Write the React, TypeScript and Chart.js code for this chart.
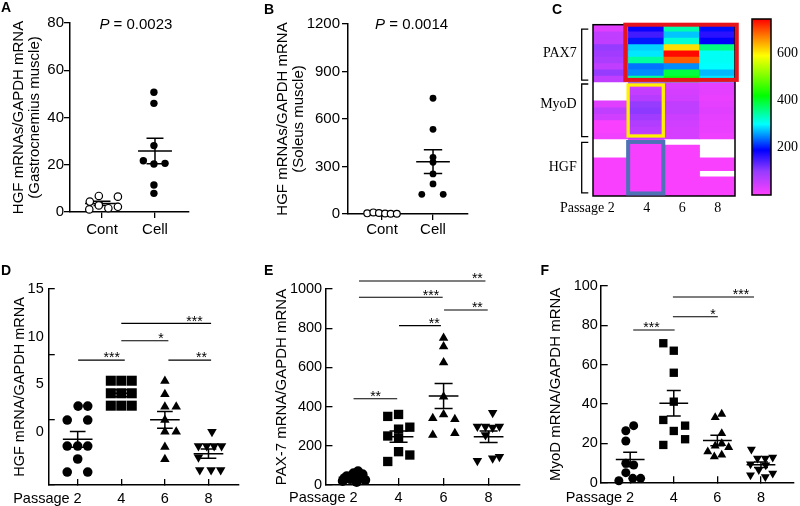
import React, { useEffect, useRef } from 'react';
import { Chart, registerables } from 'chart.js';

Chart.register(...registerables);

const SANS = '"Liberation Sans", Arial, Helvetica, sans-serif';
const SERIF = '"Liberation Serif", "Times New Roman", serif';
Chart.defaults.color = '#000';
Chart.defaults.font.family = SANS;

// ---------------- DATA ----------------
// Panel A (gastrocnemius)
const aCategories = ['Cont', 'Cell'];
const aContValues = [4.4, 6.8, 6.5, 1.1, 2.8, 1.6, 2.2];
const aContJitter = [-0.23, -0.06, 0.3, -0.24, -0.06, 0.12, 0.3];
const aCellValues = [50.7, 46.0, 28.1, 21.7, 20.3, 20.6, 11.4, 7.9];
const aCellJitter = [-0.02, -0.02, -0.02, -0.22, -0.02, 0.19, -0.02, -0.02];
const aPValue = '0.0023';

// Panel B (soleus)
const bCategories = ['Cont', 'Cell'];
const bContValues = [4, 10, 6, 3, 2, 2];
const bContJitter = [-0.29, -0.17, -0.06, 0.06, 0.17, 0.29];
const bCellValues = [731, 535, 358, 327, 253, 190, 124, 124];
const bCellJitter = [0, 0, 0, 0, 0, 0, -0.22, 0.2];
const bPValue = '0.0014';

// Passage categories (C, D, E, F)
const passages = ['Passage 2', '4', '6', '8'];

// Panel C heatmap (rows top->bottom, columns = passages), null = missing
const pax7Heat: (number | null)[][] = [
  [30, 185, 340, 195],
  [60, 150, 275, 165],
  [60, 200, 320, 190],
  [100, 280, 610, 360],
  [90, 290, 740, 305],
  [80, 345, 690, 305],
  [60, 240, 250, 300],
  [100, 250, 390, 270],
  [60, 350, 410, 290],
];
const myodHeat: (number | null)[][] = [
  [null, 45, 35, 25],
  [null, 55, 40, 25],
  [null, 70, 45, 20],
  [30, 100, 60, 25],
  [60, 105, 60, 30],
  [45, 90, 50, 25],
  [5, 75, 45, 20],
  [5, 65, 40, 20],
  [12, 55, 40, 15],
];
const hgfHeat: (number | null)[][] = [
  [null, 8, null, null],
  [null, 8, 5, null],
  [null, 8, 5, null],
  [5, 8, 5, 5],
  [5, 8, 5, 5],
  [5, 8, 5, null],
  [5, 8, 5, 5],
  [5, 8, 5, 5],
  [5, 8, 5, 5],
];
const heatGenes = ['PAX7', 'MyoD', 'HGF'];
const colorbarTicks = [200, 400, 600];
const colorbarMax = 745;

// Panel D (HGF)
const dP2 = [6.04, 6.04, 4.97, 4.97, 2.98, 2.98, 2.98, 1.99, 0.99, 0.99];
const dP2J = [0.01, 0.23, -0.24, 0.23, -0.24, 0, 0.23, 0, -0.24, 0.23];
const dP4 = [7.98, 7.98, 7.98, 7.02, 7.02, 7.02, 6.07, 6.07, 6.07];
const dP4J = [-0.24, 0, 0.24, -0.24, 0, 0.24, -0.24, 0, 0.24];
const dP6 = [7.96, 6.94, 5.99, 5.99, 4.97, 4.08, 4.08, 2.91, 1.97];
const dP6J = [0, 0, 0, 0.26, 0, 0, 0.26, 0, 0];
const dP8 = [4.08, 2.98, 2.98, 2.98, 2.98, 2.12, 1.15, 1.15, 1.15];
const dP8J = [0.08, -0.23, -0.04, 0.13, 0.3, -0.23, -0.2, 0.06, 0.28];
const dTickLabels = [0, 5, 10, 15];
const dSig = [
  { from: 2.0, to: 4.06, y: 12.37, label: '***', at: 3.68 },
  { from: 2.0, to: 3.08, y: 11.04, label: '*', at: 2.91 },
  { from: 1.01, to: 2.08, y: 9.56, label: '***', at: 1.78 },
  { from: 3.08, to: 4.06, y: 9.56, label: '**', at: 3.84 },
];

// Panel E (PAX-7)
const eP2 = [20, 45, 30, 60, 15, 40, 55, 25, 35, 70];
const eP2J = [-0.24, -0.15, -0.07, 0, 0.07, 0.13, 0.2, 0.26, -0.2, 0.1];
const eP4 = [350, 360, 295, 285, 250, 238, 170, 153, 120];
const eP4J = [-0.24, 0, 0.25, 0, -0.24, 0, 0, 0.25, -0.24];
const eP6 = [750, 706, 625, 450, 340, 360, 335, 255, 264];
const eP6J = [0, 0, 0, 0, -0.24, 0, 0.25, -0.24, 0.25];
const eP8 = [369, 298, 298, 294, 298, 255, 124, 136, 144];
const eP8J = [0.09, -0.25, -0.07, 0.09, 0.24, -0.07, -0.25, 0.09, 0.24];
const eSig = [
  { from: 1.12, to: 3.93, y: 1041, label: '**', at: 3.75 },
  { from: 1.12, to: 2.98, y: 958, label: '***', at: 2.72 },
  { from: 3.01, to: 3.98, y: 893, label: '**', at: 3.75 },
  { from: 2.01, to: 2.94, y: 813, label: '**', at: 2.79 },
  { from: 1.0, to: 1.97, y: 440, label: '**', at: 1.49 },
];

// Panel F (MyoD)
const fP2 = [1.0, 5.1, 9.9, 9.0, 21.2, 26.4, 29.0, 2.2, 2.2];
const fP2J = [-0.26, -0.1, -0.1, 0.08, -0.1, -0.1, 0.08, 0.06, 0.24];
const fP4 = [70.9, 67.1, 55.9, 41.2, 31.9, 29.0, 26.3, 22.1, 19.2];
const fP4J = [-0.24, 0, 0, 0, -0.24, 0.26, 0, 0.26, -0.24];
const fP6 = [33.2, 34.9, 25.1, 15.8, 18.7, 20.0, 18.0, 13.2, 14.1];
const fP6J = [-0.05, 0.1, 0.1, -0.22, -0.05, 0.1, 0.26, -0.07, 0.1];
const fP8 = [17.0, 12.4, 12.4, 12.9, 9.5, 9.0, 6.5, 3.9, 4.8, 3.0];
const fP8J = [-0.22, -0.08, 0.1, 0.27, -0.24, 0.11, -0.05, -0.24, 0.27, 0.1];
const fSig = [
  { from: 1.98, to: 3.84, y: 94.4, label: '***', at: 3.54 },
  { from: 1.98, to: 3.01, y: 84.4, label: '*', at: 2.9 },
  { from: 1.07, to: 2.02, y: 77.6, label: '***', at: 1.49 },
];

// ---------------- HELPERS ----------------
type Shape = 'circle' | 'open' | 'rect' | 'triangle' | 'down';
interface GroupSpec { at: number; values: number[]; jitter: number[]; shape: Shape; r: number }
interface SigSpec { from: number; to: number; y: number; label: string; at: number }
interface TextPart { t: string; italic?: boolean }
interface TextSpec { x: number; y: number; parts: TextPart[]; size: number; dy?: number; baseline?: CanvasTextBaseline }

interface PanelSpec {
  w: number; h: number;
  area: [number, number, number, number];
  title: string[]; titleCenter: number; titleSize: number; titleLH: number;
  xMin: number; xMax: number; xTicks: number[]; xLabels: string[]; xAlignEnd: boolean; xPad: number;
  yMin: number; yMax: number; yStep: number; yPad: number;
  tickLen: number; tickSize: number;
  labelAxis?: { min: number; max: number; ticks: number[] };
  groups: GroupSpec[]; halfMean: number; halfCap: number;
  sigs: SigSpec[]; texts: TextSpec[];
}

function meanSem(vals: number[]) {
  const n = vals.length;
  const m = vals.reduce((a, b) => a + b, 0) / n;
  const sd = Math.sqrt(vals.reduce((a, b) => a + (b - m) * (b - m), 0) / (n - 1));
  return { m, s: sd / Math.sqrt(n) };
}

function fontStr(size: number, italic?: boolean, family = SANS) {
  return `${italic ? 'italic ' : ''}${size}px ${family}`;
}

function makeTextPlugin(items: TextSpec[]) {
  return {
    id: 'annotText',
    afterDatasetsDraw(chart: any) {
      const ctx = chart.ctx;
      const xs = chart.scales.x;
      const ys = chart.scales.y;
      ctx.save();
      ctx.fillStyle = '#000';
      ctx.textAlign = 'left';
      for (const it of items) {
        const px = xs.getPixelForValue(it.x);
        const py = ys.getPixelForValue(it.y) + (it.dy || 0);
        const widths = it.parts.map((p) => {
          ctx.font = fontStr(it.size, p.italic);
          return ctx.measureText(p.t).width;
        });
        const total = widths.reduce((a, b) => a + b, 0);
        let x = px - total / 2;
        ctx.textBaseline = it.baseline || 'middle';
        it.parts.forEach((p, i) => {
          ctx.font = fontStr(it.size, p.italic);
          ctx.fillText(p.t, x, py);
          x += widths[i];
        });
      }
      ctx.restore();
    },
  };
}

function buildScatter(p: PanelSpec) {
  const [l, t, r, b] = p.area;
  const padLeft = p.titleCenter - (p.titleSize * p.titleLH) / 2;
  const err: any[] = [];
  for (const g of p.groups) {
    const { m, s } = meanSem(g.values);
    const c = g.at;
    err.push(
      { x: c - p.halfMean, y: m }, { x: c + p.halfMean, y: m }, { x: c, y: null },
      { x: c, y: m - s }, { x: c, y: m + s }, { x: c, y: null },
      { x: c - p.halfCap, y: m + s }, { x: c + p.halfCap, y: m + s }, { x: c, y: null },
      { x: c - p.halfCap, y: m - s }, { x: c + p.halfCap, y: m - s }, { x: c, y: null },
    );
  }
  const sigLines: any[] = [];
  for (const sg of p.sigs) {
    sigLines.push({ x: sg.from, y: sg.y }, { x: sg.to, y: sg.y }, { x: sg.to, y: null });
  }
  const datasets: any[] = [
    {
      data: err, showLine: true, pointRadius: 0, borderColor: '#000', borderWidth: 1.5,
      order: 2, clip: false, spanGaps: false,
    },
  ];
  if (sigLines.length) {
    datasets.push({
      data: sigLines, showLine: true, pointRadius: 0, borderColor: '#000', borderWidth: 1.1,
      order: 2, clip: false, spanGaps: false,
    });
  }
  for (const g of p.groups) {
    const open = g.shape === 'open';
    datasets.push({
      data: g.values.map((v, i) => ({ x: g.at + g.jitter[i], y: v })),
      showLine: false,
      pointStyle: g.shape === 'rect' ? 'rect' : g.shape === 'triangle' || g.shape === 'down' ? 'triangle' : 'circle',
      pointRotation: g.shape === 'down' ? 180 : 0,
      pointRadius: g.r,
      pointHoverRadius: g.r,
      pointBackgroundColor: open ? '#fff' : '#000',
      backgroundColor: open ? '#fff' : '#000',
      pointBorderColor: '#000',
      borderColor: '#000',
      pointBorderWidth: open ? 1.2 : 0,
      order: 1,
      clip: false,
    });
  }
  const texts: TextSpec[] = [
    ...p.texts,
    ...p.sigs.map((sg) => ({ x: sg.at, y: sg.y, parts: [{ t: sg.label }], size: 14, dy: 2.4, baseline: 'alphabetic' as CanvasTextBaseline })),
  ];
  const gridOn = (len: number) => ({
    display: true, drawOnChartArea: false, drawTicks: true, tickLength: len, color: '#000', lineWidth: 1.3,
  });
  const titleOpts = {
    display: true, text: p.title, color: '#000', padding: 0,
    font: { family: SANS, size: p.titleSize, lineHeight: p.titleLH },
  };
  const scales: any = {
    x: {
      type: 'linear', min: p.xMin, max: p.xMax,
      afterBuildTicks: (s: any) => { s.ticks = p.xTicks.map((v) => ({ value: v })); },
      afterFit: (s: any) => { s.height = p.h - b; },
      ticks: {
        autoSkip: false, maxRotation: 0, color: '#000', padding: p.xPad,
        align: p.xAlignEnd ? 'end' : 'center', labelOffset: p.xAlignEnd ? 4 : 0,
        font: { family: SANS, size: p.tickSize },
        callback: (_v: any, i: number) => p.xLabels[i],
      },
      grid: gridOn(p.tickLen),
      border: { display: true, color: '#000', width: 1.5 },
    },
    y: {
      type: 'linear', position: 'left', weight: 0, min: p.yMin, max: p.yMax,
      afterFit: (s: any) => { s.width = p.labelAxis ? 0 : l - padLeft; },
      ticks: {
        display: !p.labelAxis, stepSize: p.yStep, color: '#000', padding: p.yPad,
        font: { family: SANS, size: p.tickSize },
        callback: (v: any) => String(v),
      },
      grid: gridOn(p.tickLen),
      border: { display: true, color: '#000', width: 1.5 },
      title: p.labelAxis ? { display: false } : titleOpts,
    },
  };
  if (p.labelAxis) {
    const la = p.labelAxis;
    scales.yl = {
      type: 'linear', position: 'left', weight: 1, min: la.min, max: la.max,
      afterBuildTicks: (s: any) => { s.ticks = la.ticks.map((v) => ({ value: v })); },
      afterFit: (s: any) => { s.width = l - padLeft; },
      ticks: { color: '#000', padding: p.yPad, font: { family: SANS, size: p.tickSize }, callback: (v: any) => String(v) },
      grid: { display: false, drawTicks: false, tickLength: 0 },
      border: { display: false },
      title: titleOpts,
    };
  }
  return {
    type: 'scatter',
    data: { datasets },
    options: {
      responsive: false, animation: false, events: [],
      layout: { padding: { left: padLeft, top: t, right: p.w - r, bottom: 0 } },
      scales,
      plugins: { legend: { display: false }, tooltip: { enabled: false } },
    },
    plugins: [makeTextPlugin(texts)],
  };
}

// colour map for heatmap / colour bar
const heatStops: [number, number[]][] = [
  [0, [255, 64, 255]], [100, [150, 60, 255]], [190, [0, 0, 255]], [300, [0, 255, 255]],
  [420, [0, 255, 0]], [590, [255, 255, 0]], [670, [255, 128, 0]], [745, [255, 0, 0]],
];
function heatColor(v: number) {
  for (let i = 1; i < heatStops.length; i++) {
    const [v1, c1] = heatStops[i];
    const [v0, c0] = heatStops[i - 1];
    if (v <= v1 || i === heatStops.length - 1) {
      const f = Math.max(0, Math.min(1, (v - v0) / (v1 - v0)));
      const c = c0.map((x, k) => Math.round(x + (c1[k] - x) * f));
      return `rgb(${c[0]},${c[1]},${c[2]})`;
    }
  }
  return 'rgb(255,0,0)';
}

const heatBracketRows: [number, number][] = [[0.7, 8.75], [9.35, 17.65], [18.55, 26.5]];
const heatFrames = [
  { x0: 0.41, x1: 3.55, r0: 0, r1: 8.7, color: '#e8141c', w: 4 },
  { x0: 0.49, x1: 1.48, r0: 9.5, r1: 17.54, color: '#fff200', w: 3.3 },
  { x0: 0.49, x1: 1.48, r0: 18.48, r1: 26.6, color: '#4f72b7', w: 4 },
];

function buildHeat() {
  const rows = [...pax7Heat, ...myodHeat, ...hgfHeat];
  const datasets = rows.map((row, r) => ({
    data: row.map((v) => (v === null ? null : [r, r + 1])),
    backgroundColor: row.map((v) => (v === null ? 'rgba(0,0,0,0)' : heatColor(v))),
    borderWidth: 0, barPercentage: 1, categoryPercentage: 1, grouped: false, inflateAmount: 0.4,
  }));
  const decor = {
    id: 'heatDecor',
    afterDatasetsDraw(chart: any) {
      const { ctx, chartArea: a } = chart;
      const xs = chart.scales.x;
      const ys = chart.scales.y;
      ctx.save();
      ctx.strokeStyle = '#000';
      ctx.lineWidth = 1.5;
      ctx.strokeRect(a.left, a.top, a.right - a.left, a.bottom - a.top);
      ctx.lineWidth = 1.3;
      for (const [r0, r1] of heatBracketRows) {
        const y0 = ys.getPixelForValue(r0);
        const y1 = ys.getPixelForValue(r1);
        const bx = a.left - 11.3;
        ctx.beginPath();
        ctx.moveTo(bx + 6.6, y0);
        ctx.lineTo(bx, y0);
        ctx.lineTo(bx, y1);
        ctx.lineTo(bx + 6.6, y1);
        ctx.stroke();
      }
      for (const f of heatFrames) {
        const x0 = xs.getPixelForValue(f.x0);
        const x1 = xs.getPixelForValue(f.x1);
        const y0 = ys.getPixelForValue(f.r0);
        const y1 = ys.getPixelForValue(f.r1);
        ctx.strokeStyle = f.color;
        ctx.lineWidth = f.w;
        ctx.strokeRect(x0, y0, x1 - x0, y1 - y0);
      }
      ctx.restore();
    },
  };
  return {
    type: 'bar',
    data: { labels: passages, datasets },
    options: {
      responsive: false, animation: false, events: [],
      layout: { padding: { left: 0, top: 17, right: 5, bottom: 0 } },
      scales: {
        x: {
          type: 'category',
          afterFit: (s: any) => { s.height = 54; },
          grid: { display: false, drawTicks: false, tickLength: 0 },
          border: { display: false },
          ticks: { align: 'end', labelOffset: 4, padding: 3.9, color: '#000', autoSkip: false, maxRotation: 0, font: { family: SERIF, size: 14 } },
        },
        y: {
          type: 'linear', min: 0, max: 27, reverse: true,
          afterBuildTicks: (s: any) => { s.ticks = [4.5, 12.5, 22.5].map((v) => ({ value: v })); },
          afterFit: (s: any) => { s.width = 73; },
          grid: { display: false, drawTicks: false, tickLength: 0 },
          border: { display: false },
          ticks: { padding: 16.3, color: '#000', font: { family: SERIF, size: 14 }, callback: (_v: any, i: number) => heatGenes[i] },
        },
      },
      plugins: { legend: { display: false }, tooltip: { enabled: false } },
    },
    plugins: [decor],
  };
}

function buildColorbar() {
  const border = {
    id: 'cbBorder',
    afterDatasetsDraw(chart: any) {
      const { ctx, chartArea: a } = chart;
      ctx.save();
      ctx.strokeStyle = '#000';
      ctx.lineWidth = 1.5;
      ctx.strokeRect(a.left, a.top, a.right - a.left, a.bottom - a.top);
      ctx.restore();
    },
  };
  return {
    type: 'bar',
    data: {
      labels: [''],
      datasets: [{
        data: [[0, colorbarMax]],
        borderWidth: 0, barPercentage: 1, categoryPercentage: 1,
        backgroundColor: (c: any) => {
          const ch = c.chart;
          const ys = ch.scales && ch.scales.y;
          if (!ch.chartArea || !ys) return 'rgb(255,64,255)';
          const g = ch.ctx.createLinearGradient(0, ys.getPixelForValue(0), 0, ys.getPixelForValue(colorbarMax));
          for (const [v, col] of heatStops) g.addColorStop(v / colorbarMax, `rgb(${col[0]},${col[1]},${col[2]})`);
          return g;
        },
      }],
    },
    options: {
      responsive: false, animation: false, events: [],
      layout: { padding: { left: 12, top: 19, right: 0, bottom: 55 } },
      scales: {
        x: { display: false },
        y: {
          position: 'right', min: 0, max: colorbarMax,
          afterBuildTicks: (s: any) => { s.ticks = colorbarTicks.map((v) => ({ value: v })); },
          afterFit: (s: any) => { s.width = 29; },
          grid: { display: false, drawTicks: false, tickLength: 0 },
          border: { display: false },
          ticks: { padding: 6, color: '#000', font: { family: SERIF, size: 14 }, callback: (v: any) => String(v) },
        },
      },
      plugins: { legend: { display: false }, tooltip: { enabled: false } },
    },
    plugins: [border],
  };
}

// ---------------- PANELS ----------------
const panelA: PanelSpec = {
  w: 260, h: 250, area: [70, 23, 189, 212],
  title: ['HGF mRNAs/GAPDH mRNA', '(Gastrocnemius muscle)'], titleCenter: 19, titleSize: 15, titleLH: 1.05,
  xMin: 0.396, xMax: 2.642, xTicks: [1, 2], xLabels: aCategories, xAlignEnd: false, xPad: 3,
  yMin: 0, yMax: 80, yStep: 20, yPad: 0, tickLen: 6, tickSize: 15,
  groups: [
    { at: 1, values: aContValues, jitter: aContJitter, shape: 'open', r: 3.7 },
    { at: 2, values: aCellValues, jitter: aCellJitter, shape: 'circle', r: 3.7 },
  ],
  halfMean: 0.32, halfCap: 0.16, sigs: [],
  texts: [{ x: 1.64, y: 79.2, parts: [{ t: 'P', italic: true }, { t: ' = ' + aPValue }], size: 15 }],
};

const panelB: PanelSpec = {
  w: 260, h: 250, area: [88, 24, 208, 214],
  title: ['HGF mRNAs/GAPDH mRNA', '(Soleus muscle)'], titleCenter: 23.3, titleSize: 15, titleLH: 1.05,
  xMin: 0.333, xMax: 2.686, xTicks: [1, 2], xLabels: bCategories, xAlignEnd: false, xPad: 1,
  yMin: 0, yMax: 1200, yStep: 300, yPad: 2, tickLen: 6, tickSize: 15,
  groups: [
    { at: 1, values: bContValues, jitter: bContJitter, shape: 'open', r: 3.4 },
    { at: 2, values: bCellValues, jitter: bCellJitter, shape: 'circle', r: 3.4 },
  ],
  halfMean: 0.33, halfCap: 0.18, sigs: [],
  texts: [{ x: 1.58, y: 1194, parts: [{ t: 'P', italic: true }, { t: ' = ' + bPValue }], size: 15 }],
};

const panelD: PanelSpec = {
  w: 275, h: 256, area: [51.7, 39, 249, 235],
  title: ['HGF mRNA/GAPDH mRNA'], titleCenter: 23.3, titleSize: 14.5, titleLH: 1,
  xMin: 0.336, xMax: 4.7, xTicks: [1, 2, 3, 4], xLabels: passages, xAlignEnd: true, xPad: 11.3,
  yMin: 0, yMax: 15, yStep: 5, yPad: 5, tickLen: -6, tickSize: 14.5,
  labelAxis: { min: -5.6, max: 15, ticks: dTickLabels },
  groups: [
    { at: 1, values: dP2, jitter: dP2J, shape: 'circle', r: 4.8 },
    { at: 2, values: dP4, jitter: dP4J, shape: 'rect', r: 7.1 },
    { at: 3, values: dP6, jitter: dP6J, shape: 'triangle', r: 5.5 },
    { at: 4, values: dP8, jitter: dP8J, shape: 'down', r: 5.5 },
  ],
  halfMean: 0.34, halfCap: 0.18, sigs: dSig, texts: [],
};

const panelE: PanelSpec = {
  w: 275, h: 256, area: [58.3, 39, 255, 235],
  title: ['PAX-7 mRNA/GAPDH mRNA'], titleCenter: 15, titleSize: 15, titleLH: 1,
  xMin: 0.376, xMax: 4.697, xTicks: [1, 2, 3, 4], xLabels: passages, xAlignEnd: true, xPad: 11.6,
  yMin: 0, yMax: 1000, yStep: 200, yPad: 10.3, tickLen: -7, tickSize: 14.5,
  groups: [
    { at: 1, values: eP2, jitter: eP2J, shape: 'circle', r: 5 },
    { at: 2, values: eP4, jitter: eP4J, shape: 'rect', r: 6.6 },
    { at: 3, values: eP6, jitter: eP6J, shape: 'triangle', r: 5.5 },
    { at: 4, values: eP8, jitter: eP8J, shape: 'down', r: 5.5 },
  ],
  halfMean: 0.33, halfCap: 0.2, sigs: eSig, texts: [],
};

const panelF: PanelSpec = {
  w: 260, h: 256, area: [55, 36, 255, 232.7],
  title: ['MyoD mRNA/GAPDH mRNA'], titleCenter: 10, titleSize: 15, titleLH: 1,
  xMin: 0.336, xMax: 4.76, xTicks: [1, 2, 3, 4], xLabels: passages, xAlignEnd: true, xPad: 13.4,
  yMin: 0, yMax: 100, yStep: 20, yPad: 9.8, tickLen: -6.5, tickSize: 14.5,
  groups: [
    { at: 1, values: fP2, jitter: fP2J, shape: 'circle', r: 4.5 },
    { at: 2, values: fP4, jitter: fP4J, shape: 'rect', r: 5.9 },
    { at: 3, values: fP6, jitter: fP6J, shape: 'triangle', r: 5.2 },
    { at: 4, values: fP8, jitter: fP8J, shape: 'down', r: 5.2 },
  ],
  halfMean: 0.33, halfCap: 0.16, sigs: fSig, texts: [],
};

const CANVASES = [
  { x: 0, y: 0, w: 260, h: 250, build: () => buildScatter(panelA) },
  { x: 260, y: 0, w: 260, h: 250, build: () => buildScatter(panelB) },
  { x: 520, y: 0, w: 220, h: 250, build: () => buildHeat() },
  { x: 740, y: 0, w: 60, h: 250, build: () => buildColorbar() },
  { x: -10, y: 250, w: 275, h: 256, build: () => buildScatter(panelD) },
  { x: 265, y: 250, w: 275, h: 256, build: () => buildScatter(panelE) },
  { x: 540, y: 250, w: 260, h: 256, build: () => buildScatter(panelF) },
];

const LETTERS = [
  { t: 'A', x: 1, y: 0 },
  { t: 'B', x: 264, y: 2 },
  { t: 'C', x: 552, y: 1.5 },
  { t: 'D', x: 1, y: 263 },
  { t: 'E', x: 264, y: 263 },
  { t: 'F', x: 540.5, y: 263 },
];

export default function App() {
  const refs = useRef<(HTMLCanvasElement | null)[]>([]);
  useEffect(() => {
    const charts = CANVASES.map((c, i) => new Chart(refs.current[i] as HTMLCanvasElement, c.build() as any));
    return () => { charts.forEach((ch) => ch.destroy()); };
  }, []);
  return (
    <div style={{ position: 'absolute', left: 0, top: 0, width: 800, height: 506, overflow: 'hidden', background: '#fff' }}>
      {CANVASES.map((c, i) => (
        <canvas
          key={i}
          ref={(el) => { refs.current[i] = el; }}
          width={c.w}
          height={c.h}
          style={{ position: 'absolute', left: c.x, top: c.y, width: c.w, height: c.h }}
        />
      ))}
      {LETTERS.map((L) => (
        <div
          key={L.t}
          style={{ position: 'absolute', left: L.x, top: L.y, font: `bold 14px ${SANS}`, lineHeight: '14px', color: '#000' }}
        >
          {L.t}
        </div>
      ))}
    </div>
  );
}
